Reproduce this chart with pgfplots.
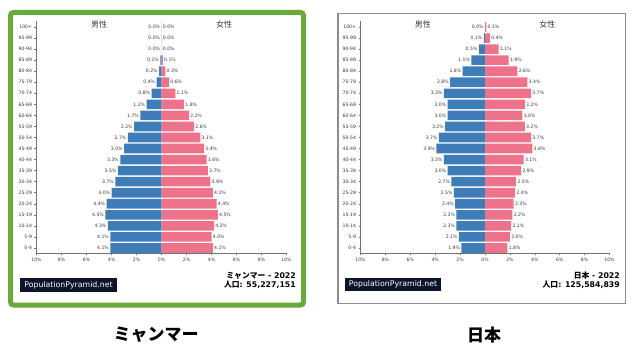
\documentclass[border=0pt]{standalone}
\usepackage{fontspec}
\setmainfont{DejaVu Sans}
\newfontfamily\cjk{Noto Sans CJK JP}
\usepackage{pgfplots}
\usepackage{pgfplotstable}
\pgfplotsset{compat=1.18}
\definecolor{mblue}{RGB}{62,125,184}
\definecolor{fpink}{RGB}{238,114,138}
\definecolor{framegreen}{RGB}{106,170,61}
\definecolor{logo}{RGB}{12,20,44}
\definecolor{txt}{RGB}{55,55,55}

\pgfplotstableread{
y m f
0 4.1 4.1
1 4.1 4.0
2 4.3 4.2
3 4.5 4.5
4 4.4 4.4
5 4.0 4.1
6 3.7 3.9
7 3.5 3.7
8 3.3 3.6
9 3.0 3.4
10 2.7 3.1
11 2.2 2.6
12 1.7 2.2
13 1.2 1.8
14 0.8 1.1
15 0.4 0.6
16 0.2 0.3
17 0.1 0.1
18 0.0 0.0
19 0.0 0.0
20 0.0 0.0
}\mm

\pgfplotstableread{
y m f
0 1.9 1.8
1 2.1 2.0
2 2.3 2.1
3 2.3 2.2
4 2.4 2.3
5 2.5 2.4
6 2.7 2.5
7 3.0 2.9
8 3.3 3.1
9 3.9 3.8
10 3.7 3.7
11 3.2 3.2
12 3.0 3.0
13 3.0 3.2
14 3.3 3.7
15 2.8 3.4
16 1.8 2.6
17 1.1 1.9
18 0.5 1.1
19 0.1 0.4
20 0.0 0.1
}\jp

\pgfplotsset{
  pyr/.style={
    scale only axis, height=232pt,
    xmin=-10, xmax=10, ymin=-0.5, ymax=20.5,
    axis x line*=bottom, axis y line*=left,
    xtick={-10,-8,...,10},
    xticklabels={10\%,8\%,6\%,4\%,2\%,0\%,2\%,4\%,6\%,8\%,10\%},
    ytick={0,...,20},
    yticklabels={0-4,5-9,10-14,15-19,20-24,25-29,30-34,35-39,40-44,45-49,50-54,55-59,60-64,65-69,70-74,75-79,80-84,85-89,90-94,95-99,100+},
    tick label style={font=\fontsize{4.6}{5}\selectfont, text=txt},
    xticklabel style={yshift=1pt},
    yticklabel style={xshift=1pt},
    tick align=outside, major tick length=2pt,
    axis line style={draw=black!55, line width=0.6pt},
    tick style={draw=black!55, line width=0.5pt},
    clip=false,
    point meta=explicit,
    nodes near coords={\pgfmathprintnumber[fixed,fixed zerofill,precision=1,assume math mode=true]{\pgfplotspointmeta}\%},
  },
  male/.style={xbar, bar shift=0pt, bar width=9.6pt, fill=mblue, draw=none,
    every node near coord/.append style={anchor=east, font=\fontsize{4.6}{5}\selectfont, text=txt, inner sep=1.2pt}},
  female/.style={xbar, bar shift=0pt, bar width=9.6pt, fill=fpink, draw=none,
    every node near coord/.append style={anchor=west, font=\fontsize{4.6}{5}\selectfont, text=txt, inner sep=1.2pt}},
}

\begin{document}
\begin{tikzpicture}
\path[use as bounding box] (0,0) rectangle (640pt,351pt);
\fill[white] (0,0) rectangle (640pt,351pt);

% frames
\draw[framegreen, line width=5pt, rounded corners=3pt] (10.5pt,46pt) rectangle (303.5pt,338.5pt);
\draw[black!45, line width=1.5pt] (338pt,47.5pt) rectangle (625.5pt,337.5pt);

% Myanmar
\begin{axis}[pyr, width=250pt, at={(36.5pt,97.5pt)}, anchor=south west]
\addplot[male] table[x expr=-\thisrow{m}, y=y, meta=m]{\mm};
\addplot[female] table[x=f, y=y, meta=f]{\mm};
\node[font=\cjk\fontsize{8}{9}\selectfont, text=txt] at (axis cs:-5,20.2) {男性};
\node[font=\cjk\fontsize{8}{9}\selectfont, text=txt] at (axis cs:5,20.2) {女性};
\end{axis}

% Japan
\begin{axis}[pyr, width=249pt, at={(360.5pt,97.5pt)}, anchor=south west]
\addplot[male] table[x expr=-\thisrow{m}, y=y, meta=m]{\jp};
\addplot[female] table[x=f, y=y, meta=f]{\jp};
\node[font=\cjk\fontsize{8}{9}\selectfont, text=txt] at (axis cs:-5,20.2) {男性};
\node[font=\cjk\fontsize{8}{9}\selectfont, text=txt] at (axis cs:5,20.2) {女性};
\end{axis}

% logos
\fill[logo] (20pt,59pt) rectangle (117pt,73pt);
\node[text=white, font=\fontsize{7.8}{9}\selectfont] at (68.5pt,66pt) {PopulationPyramid.net};
\fill[logo] (345pt,60pt) rectangle (441pt,73pt);
\node[text=white, font=\fontsize{7.8}{9}\selectfont] at (393pt,66.5pt) {PopulationPyramid.net};

% info texts
\node[anchor=east, font=\bfseries\fontsize{7.8}{9}\selectfont, inner sep=0pt] at (296pt,75pt) {{\cjk ミャンマー} - 2022};
\node[anchor=east, font=\bfseries\fontsize{7.8}{9}\selectfont, inner sep=0pt] at (296pt,66pt) {{\cjk 人口}: 55,227,151};
\node[anchor=east, font=\bfseries\fontsize{7.8}{9}\selectfont, inner sep=0pt] at (620pt,75pt) {{\cjk 日本} - 2022};
\node[anchor=east, font=\bfseries\fontsize{7.8}{9}\selectfont, inner sep=0pt] at (620pt,66pt) {{\cjk 人口}: 125,584,839};

% titles
\node[font=\cjk\bfseries\fontsize{17}{19}\selectfont] at (156pt,16pt) {ミャンマー};
\node[font=\cjk\bfseries\fontsize{17}{19}\selectfont] at (484pt,16pt) {日本};
\end{tikzpicture}
\end{document}
